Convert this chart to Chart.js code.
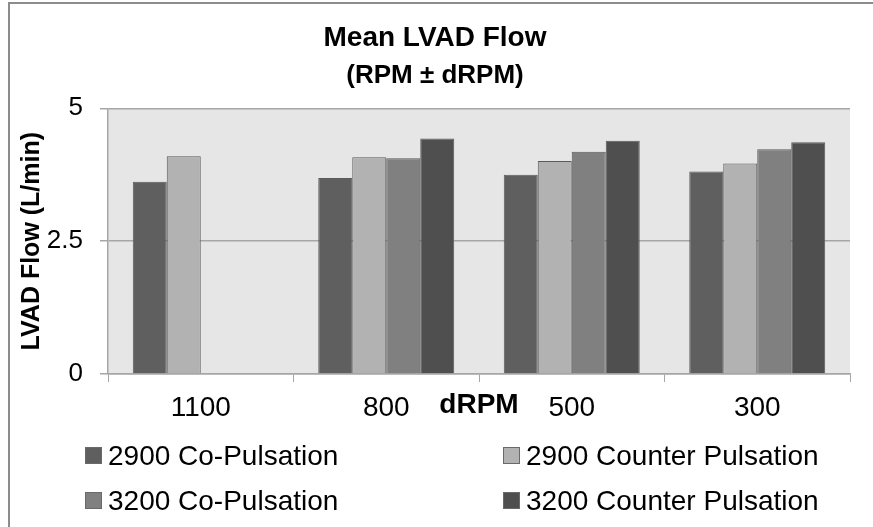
<!DOCTYPE html>
<html>
<head>
<meta charset="utf-8">
<script src="https://cdn.jsdelivr.net/npm/chart.js@4.4.1/dist/chart.umd.min.js"></script>
<style>
  html, body { margin: 0; padding: 0; background: #fff; overflow: hidden; }
  #wrap { position: relative; width: 873px; height: 527px; overflow: hidden; }
  #frame { position: absolute; left: 8px; top: 2px; width: 1200px; height: 900px; border-left: 2px solid #8c8c8c; border-top: 2px solid #8c8c8c; box-sizing: border-box; pointer-events: none; }
  canvas { position: absolute; left: 0; top: 0; }
  .lg { position: absolute; font-family: "Liberation Sans", Arial, sans-serif; font-size: 28px; color: #000; white-space: nowrap; line-height: 30px; height: 30px; }
  .lg .sw { display: inline-block; width: 15px; height: 15px; border: 1px solid #6a6a6a; vertical-align: middle; margin-right: 6px; position: relative; top: -2px; }
</style>
</head>
<body>
<div id="wrap">
  <canvas id="c" width="873" height="527"></canvas>
  <div id="frame"></div>
  <div id="legend"></div>
</div>
<script>
const categories = ['1100', '800', '500', '300'];
const seriesNames = ['2900 Co-Pulsation', '2900 Counter Pulsation', '3200 Co-Pulsation', '3200 Counter Pulsation'];
const s2900Co = [3.62, 3.69, 3.75, 3.81];
const s2900Counter = [4.10, 4.08, 4.01, 3.96];
const s3200Co = [null, 4.06, 4.18, 4.23];
const s3200Counter = [null, 4.43, 4.39, 4.36];
const yTickValues = [0, 2.5, 5];
const seriesColors = ['#5f5f5f', '#b2b2b2', '#808080', '#4f4f4f'];

const FONT = '"Liberation Sans", Arial, sans-serif';

const plotBg = {
  id: 'plotBg',
  beforeDraw(chart) {
    const {ctx, chartArea: a} = chart;
    ctx.save();
    ctx.fillStyle = '#e6e6e6';
    ctx.fillRect(a.left, a.top, a.right - a.left, a.bottom - a.top);
    ctx.restore();
  }
};

const seriesData = [s2900Co, s2900Counter, s3200Co, s3200Counter];

const chart = new Chart(document.getElementById('c'), {
  type: 'bar',
  data: {
    labels: categories,
    datasets: seriesData.map((d, i) => ({
      label: seriesNames[i],
      data: d,
      backgroundColor: seriesColors[i],
      borderColor: '#5a5a5a',
      borderWidth: 1,
      categoryPercentage: 0.733,
      barPercentage: 1.0
    }))
  },
  options: {
    responsive: false,
    animation: false,
    layout: { padding: { left: 20, right: 23, top: 0, bottom: 103 } },
    plugins: {
      legend: { display: false },
      tooltip: { enabled: false },
      title: {
        display: true,
        text: 'Mean LVAD Flow',
        color: '#000',
        font: { family: FONT, size: 28, weight: 'bold', lineHeight: 1.2 },
        padding: { top: 21, bottom: 4 }
      },
      subtitle: {
        display: true,
        text: '(RPM ± dRPM)',
        color: '#000',
        font: { family: FONT, size: 26, weight: 'bold', lineHeight: 1.2 },
        padding: { top: 2, bottom: 16.5 }
      }
    },
    scales: {
      x: {
        offset: true,
        grid: { display: true, drawOnChartArea: false, drawTicks: true, tickLength: 8, color: '#a6a6a6', offset: true },
        border: { display: true, color: '#a6a6a6', width: 1.5 },
        ticks: { color: '#000', font: { family: FONT, size: 28, lineHeight: 1.2 }, padding: 9, maxRotation: 0 },
        title: {
          display: true,
          text: 'dRPM',
          color: '#000',
          font: { family: FONT, size: 28, weight: 'bold', lineHeight: 1.2 },
          padding: { top: 0, bottom: 2 }
        },
        afterFit(scale) { scale.height = 50; }
      },
      y: {
        min: 0,
        max: 5,
        afterBuildTicks(scale) { scale.ticks = yTickValues.map(v => ({ value: v })); },
        ticks: { color: '#000', font: { family: FONT, size: 26 }, padding: 17, callback: v => String(v) },
        grid: { color: '#a6a6a6', lineWidth: 1.5, drawTicks: true, tickLength: 8 },
        border: { display: true, color: '#a6a6a6', width: 1.5 },
        title: {
          display: true,
          text: 'LVAD Flow (L/min)',
          color: '#000',
          font: { family: FONT, size: 25, weight: 'bold', lineHeight: 1.0 },
          padding: { top: 0, bottom: 0 }
        },
        afterFit(scale) { scale.width = 88; }
      }
    }
  },
  plugins: [plotBg]
});

// Legend (HTML), built from the series names/colours
const legendPos = [
  { left: 85, top: 441 }, { left: 503, top: 441 },
  { left: 85, top: 486 }, { left: 503, top: 486 }
];
const lg = document.getElementById('legend');
seriesNames.forEach((name, i) => {
  const d = document.createElement('div');
  d.className = 'lg';
  d.style.left = legendPos[i].left + 'px';
  d.style.top = legendPos[i].top + 'px';
  const sw = document.createElement('span');
  sw.className = 'sw';
  sw.style.background = seriesColors[i];
  d.appendChild(sw);
  d.appendChild(document.createTextNode(name));
  lg.appendChild(d);
});
</script>
</body>
</html>
